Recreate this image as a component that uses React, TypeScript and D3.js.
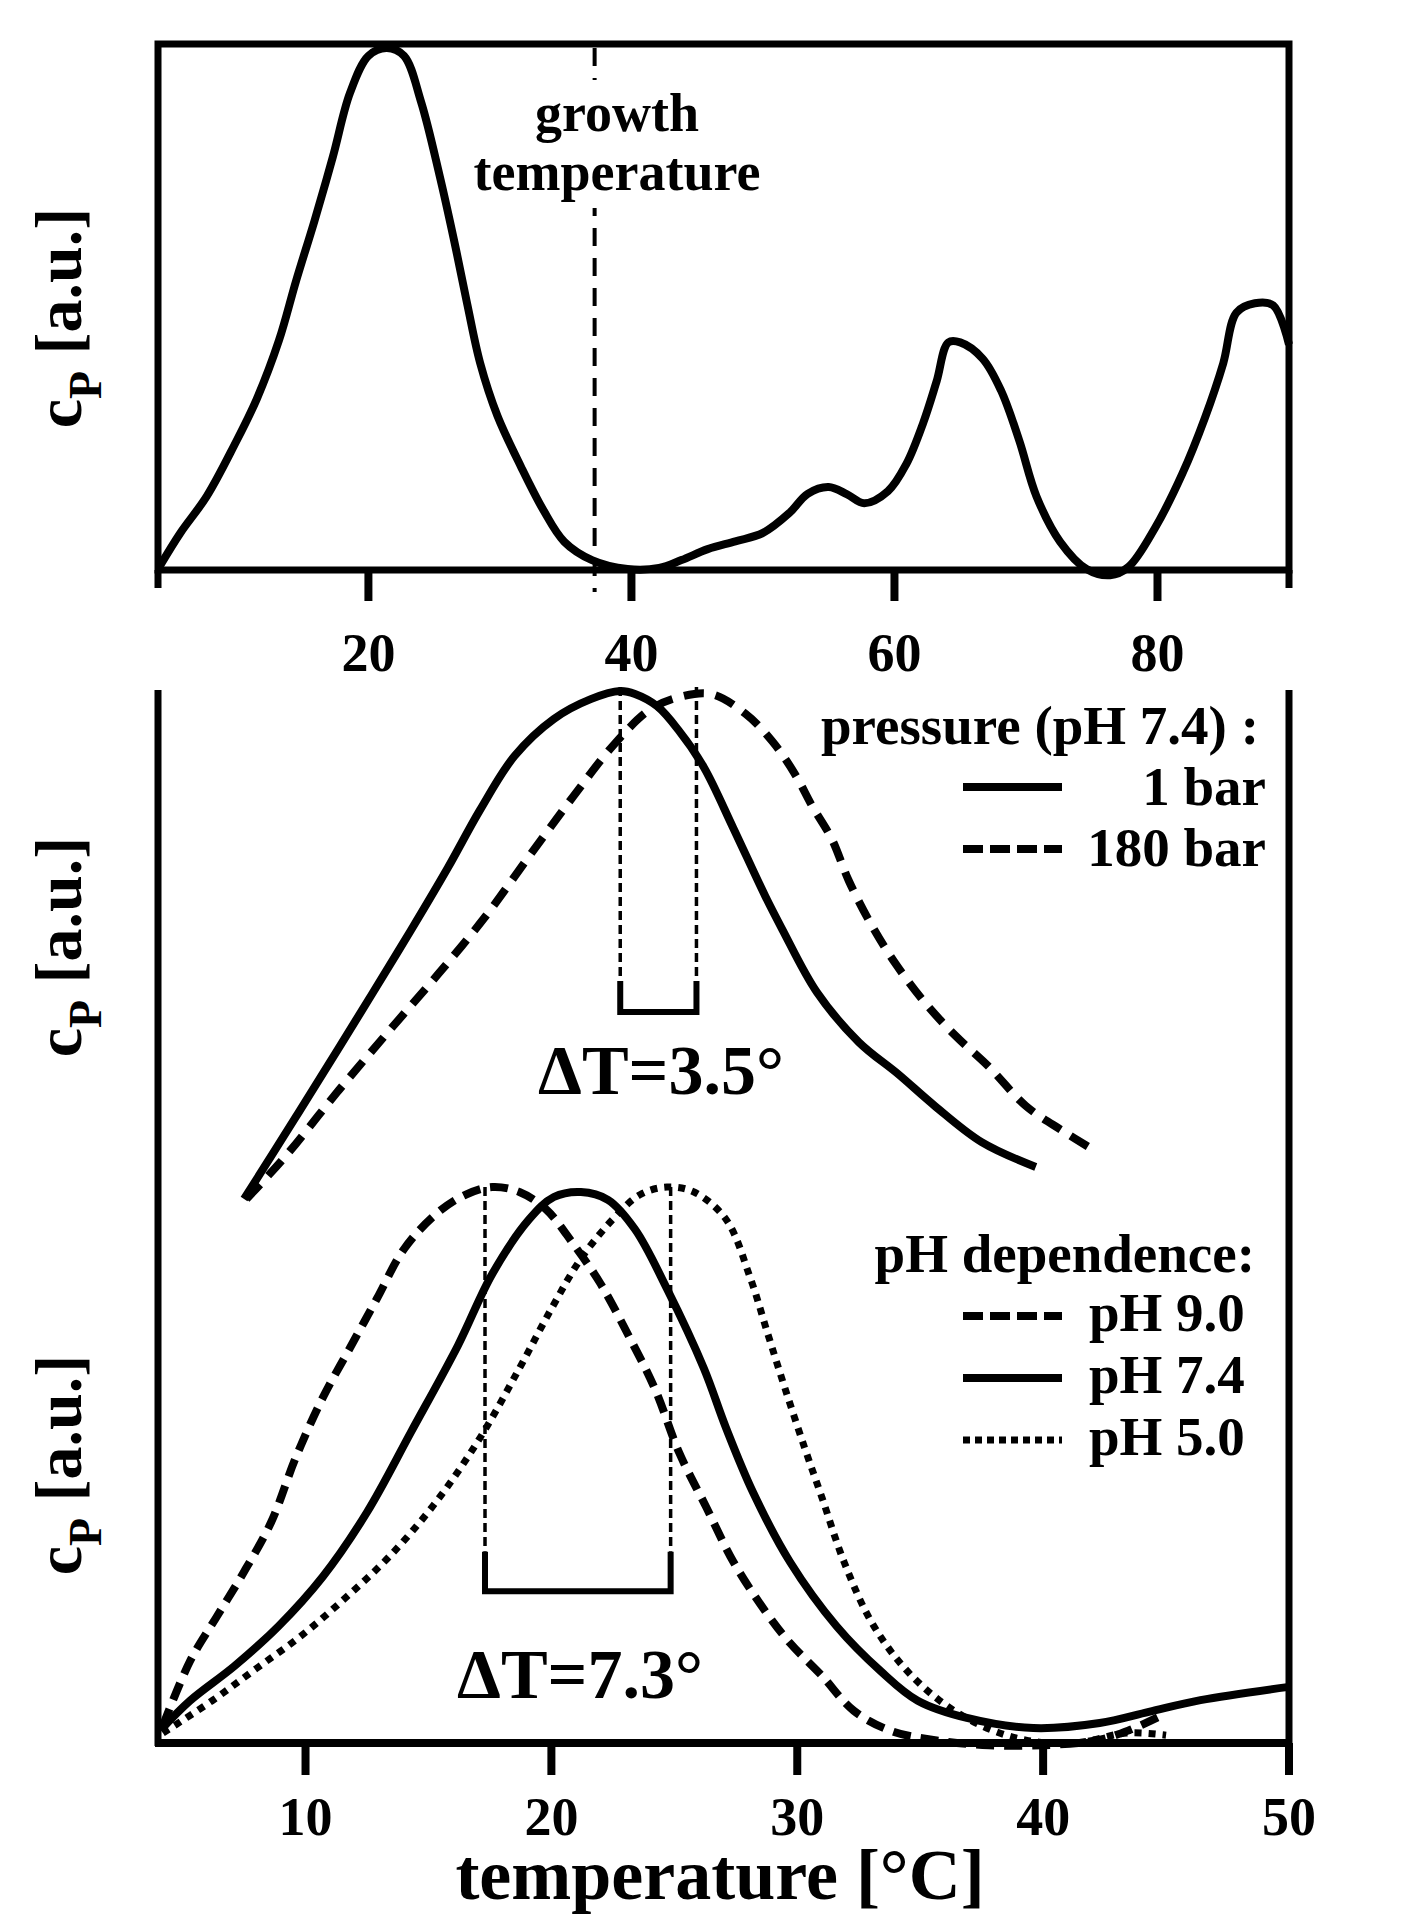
import React from "react";
import * as d3 from "d3";

type Pt = [number, number];

// ---- top panel: whole-cell DSC scan, temperature vs cP ----
const topTicks = [20, 40, 60, 80];
const growthTemp = 37.2;
const cellScan: Pt[] = [
  [4.1, 0.6], [5.7, 7.1], [7.7, 14.1], [9.8, 23.9], [11.5, 32.7], [13.2, 44.0],
  [14.5, 55.4], [15.9, 66.9], [17.3, 79.2], [18.6, 91.4], [20.0, 98.5], [21.4, 100],
  [22.7, 98.5], [24.0, 89.7], [25.4, 75.7], [26.5, 63.3], [27.5, 51.1], [28.5, 39.6],
  [29.8, 29.6], [31.6, 19.8], [33.3, 11.5], [34.9, 5.4], [37.0, 1.9], [39.7, 0.2],
  [42.1, 0.4], [43.8, 1.9], [45.8, 4.0], [47.9, 5.5], [50.0, 7.1], [52.0, 10.9],
  [53.4, 14.6], [55.0, 15.9], [56.4, 14.5], [57.7, 12.8], [59.5, 15.1], [60.9, 20.3],
  [62.2, 28.3], [63.2, 36.1], [64.1, 43.6], [65.0, 43.6], [66.7, 40.5], [68.1, 34.4],
  [69.5, 24.7], [70.8, 14.1], [72.6, 5.4], [74.6, 0.2], [76.4, -1.0], [77.8, 0.6],
  [79.8, 8.0], [81.9, 18.5], [83.6, 29.1], [85.0, 39.6], [86.0, 49.3], [87.4, 51.1],
  [88.8, 50.7], [90.0, 43.2],
];

// ---- bottom panel, upper pair: pressure (pH 7.4) ----
const bottomTicks = [10, 20, 30, 40, 50];
const bar1: Pt[] = [
  [7.5, 0], [9.6, 16.1], [11.4, 30.1], [12.7, 40.3], [14.3, 53.0], [15.8, 65.3],
  [17.1, 76.6], [18.5, 87.2], [20.1, 94.5], [21.6, 98.4], [22.8, 100], [23.4, 99.4],
  [24.3, 97.0], [25.2, 92.1], [26.2, 85.0], [27.4, 73.0], [28.7, 59.6], [29.4, 53.0],
  [30.8, 40.7], [32.5, 30.9], [34.1, 24.6], [35.6, 18.3], [37.5, 11.2], [39.7, 6.3],
];
const bar180: Pt[] = [
  [7.6, 0], [9.2, 8.5], [11.3, 21.1], [13.4, 33.1], [15.4, 44.3], [17.3, 55.5],
  [19.1, 67.5], [20.9, 79.3], [22.5, 89.2], [24.0, 96.3], [25.2, 98.8], [26.5, 99.4],
  [27.9, 95.5], [29.0, 90.0], [29.9, 83.7], [30.6, 77.4], [31.4, 70.9], [32.1, 62.6],
  [33.0, 54.1], [34.0, 46.3], [35.2, 38.6], [36.4, 32.3], [37.8, 26.0], [39.3, 18.3],
  [40.8, 13.4], [42.0, 9.8],
];
const pressurePeaks = [22.8, 25.9];

// ---- bottom panel, lower triple: pH dependence ----
const ph90: Pt[] = [
  [4.2, 3.1], [5.3, 14.7], [6.4, 22.8], [7.5, 30.8], [8.6, 39.7], [9.6, 51.3],
  [10.7, 62.1], [11.8, 71.0], [12.9, 79.9], [14.0, 88.8], [15.3, 95.1], [16.5, 98.6],
  [17.6, 100], [18.7, 99.1], [19.8, 95.9], [20.9, 89.7], [22.0, 82.6], [23.1, 73.6],
  [24.2, 63.8], [25.2, 52.2], [26.3, 42.4], [27.4, 32.6], [28.7, 23.7], [29.7, 18.0],
  [31.0, 12.1], [32.3, 5.8], [33.8, 2.2], [35.6, 0.5], [37.8, -0.4], [40.0, -0.4],
  [42.2, 0.5], [43.5, 2.3], [44.7, 4.7],
];
const ph74: Pt[] = [
  [4.1, 2.3], [5.3, 7.6], [7.1, 13.8], [8.9, 21.0], [10.7, 29.9], [12.5, 41.5],
  [14.3, 56.0], [16.2, 71.5], [17.6, 84.4], [19.1, 94.2], [20.1, 98.2], [21.2, 99.1],
  [22.3, 97.7], [23.4, 92.4], [24.7, 81.7], [26.2, 67.4], [27.1, 56.7], [28.2, 45.1],
  [29.7, 32.6], [31.6, 21.0], [33.4, 12.9], [34.9, 7.6], [36.9, 4.5], [39.6, 2.7],
  [42.3, 3.6], [44.3, 5.6], [46.4, 7.7], [50.0, 10.1],
];
const ph50: Pt[] = [
  [4.2, 1.8], [6.2, 7.6], [8.0, 13.4], [9.8, 19.2], [11.6, 26.0], [13.4, 33.5],
  [15.3, 43.3], [17.1, 54.9], [18.7, 67.4], [20.0, 78.1], [21.2, 87.1], [22.5, 94.2],
  [23.6, 98.6], [24.7, 100], [25.8, 99.1], [27.1, 94.2], [28.1, 83.5], [28.8, 73.6],
  [29.5, 63.8], [30.3, 53.1], [31.0, 44.2], [31.9, 32.6], [33.0, 21.9], [34.3, 13.8],
  [35.8, 7.6], [37.5, 3.1], [39.3, 0.5], [41.3, 0], [43.4, 1.8], [45.0, 1.4],
];
const phPeaks = [17.3, 24.85];

const FONT = "'Liberation Serif', 'Times New Roman', Times, serif";

const App: React.FC = () => {
  const W = 1410;
  const H = 1928;
  const left = 158;
  const right = 1289;

  // scales
  const xTop = d3.scaleLinear().domain([4, 90]).range([left, right]);
  const yTop = d3.scaleLinear().domain([0, 100]).range([570, 48]);
  const xBot = d3.scaleLinear().domain([4, 50]).range([left, right]);
  const yPress = d3.scaleLinear().domain([0, 100]).range([1199, 691]);
  const yPh = d3.scaleLinear().domain([0, 100]).range([1743, 1187]);

  const topBase = yTop(0);
  const botBase = yPh(0);

  const lineTop = d3
    .line<Pt>()
    .x((d) => xTop(d[0]))
    .y((d) => yTop(d[1]))
    .curve(d3.curveCatmullRom);
  const linePress = d3
    .line<Pt>()
    .x((d) => xBot(d[0]))
    .y((d) => yPress(d[1]))
    .curve(d3.curveCatmullRom);
  const linePh = d3
    .line<Pt>()
    .x((d) => xBot(d[0]))
    .y((d) => yPh(d[1]))
    .curve(d3.curveCatmullRom);

  const yLabel = (cy: number) => (
    <text
      transform={`translate(81,${cy}) rotate(-90)`}
      textAnchor="middle"
      fontSize={66}
      fontWeight="bold"
    >
      c
      <tspan fontSize={46} dy={20}>
        P
      </tspan>
      <tspan dy={-20}> [a.u.]</tspan>
    </text>
  );

  // bracket under two peaks
  const bracket = (x1: number, x2: number, yT: number, yB: number) =>
    `M${x1},${yT}V${yB}H${x2}V${yT}`;

  return (
    <svg
      width={W}
      height={H}
      style={{ position: "absolute", left: 0, top: 0, background: "#fff" }}
      fontFamily={FONT}
    >
      <rect width={W} height={H} fill="#fff" />

      {/* ===== top panel ===== */}
      <line
        x1={xTop(growthTemp)}
        x2={xTop(growthTemp)}
        y1={48}
        y2={topBase + 22}
        stroke="#000"
        strokeWidth={4}
        strokeDasharray="18,12"
      />
      <rect x={468} y={80} width={300} height={128} fill="#fff" />
      <g fontSize={54} fontWeight="bold" textAnchor="middle">
        <text x={617} y={131}>growth</text>
        <text x={617} y={190}>temperature</text>
      </g>

      <path d={lineTop(cellScan) ?? ""} fill="none" stroke="#000" strokeWidth={8} strokeLinejoin="round" />

      <rect x={left} y={44} width={right - left} height={topBase - 44} fill="none" stroke="#000" strokeWidth={7} />
      <line x1={left} x2={left} y1={topBase} y2={topBase + 18} stroke="#000" strokeWidth={7} />
      <line x1={right} x2={right} y1={topBase} y2={topBase + 18} stroke="#000" strokeWidth={7} />
      {topTicks.map((t) => (
        <g key={t}>
          <line x1={xTop(t)} x2={xTop(t)} y1={topBase} y2={topBase + 31} stroke="#000" strokeWidth={8} />
          <text x={xTop(t)} y={671} textAnchor="middle" fontSize={54} fontWeight="bold">
            {t}
          </text>
        </g>
      ))}
      {yLabel(318)}

      {/* ===== bottom panel ===== */}
      {/* pressure pair */}
      {pressurePeaks.map((p) => (
        <line
          key={p}
          x1={xBot(p)}
          x2={xBot(p)}
          y1={yPress(100.8)}
          y2={yPress(42.9)}
          stroke="#000"
          strokeWidth={3.5}
          strokeDasharray="9,5"
        />
      ))}
      <path
        d={bracket(xBot(pressurePeaks[0]), xBot(pressurePeaks[1]), yPress(42.9), yPress(36.8))}
        fill="none"
        stroke="#000"
        strokeWidth={6}
      />
      <text x={661} y={1094} textAnchor="middle" fontSize={70} fontWeight="bold">
        ΔT=3.5°
      </text>
      <path d={linePress(bar1) ?? ""} fill="none" stroke="#000" strokeWidth={8} strokeLinejoin="round" />
      <path d={linePress(bar180) ?? ""} fill="none" stroke="#000" strokeWidth={8} strokeDasharray="20,12" />

      {/* pH triple */}
      {phPeaks.map((p) => (
        <line
          key={p}
          x1={xBot(p)}
          x2={xBot(p)}
          y1={yPh(100)}
          y2={yPh(34.4)}
          stroke="#000"
          strokeWidth={3.5}
          strokeDasharray="9,5"
        />
      ))}
      <path
        d={bracket(xBot(phPeaks[0]), xBot(phPeaks[1]), yPh(34.4), yPh(27.3))}
        fill="none"
        stroke="#000"
        strokeWidth={6}
      />
      <text x={580} y={1698} textAnchor="middle" fontSize={70} fontWeight="bold">
        ΔT=7.3°
      </text>
      <path d={linePh(ph50) ?? ""} fill="none" stroke="#000" strokeWidth={7} strokeDasharray="7,7" />
      <path d={linePh(ph90) ?? ""} fill="none" stroke="#000" strokeWidth={8} strokeDasharray="18,10" />
      <path d={linePh(ph74) ?? ""} fill="none" stroke="#000" strokeWidth={8} strokeLinejoin="round" />

      {/* axes */}
      <line x1={left} x2={left} y1={690} y2={botBase + 3} stroke="#000" strokeWidth={7} />
      <line x1={right} x2={right} y1={690} y2={botBase + 32} stroke="#000" strokeWidth={7} />
      <line x1={left - 3} x2={right} y1={botBase} y2={botBase} stroke="#000" strokeWidth={8} />
      {bottomTicks.map((t) => (
        <g key={t}>
          <line x1={xBot(t)} x2={xBot(t)} y1={botBase} y2={botBase + 32} stroke="#000" strokeWidth={8} />
          <text x={xBot(t)} y={1835} textAnchor="middle" fontSize={54} fontWeight="bold">
            {t}
          </text>
        </g>
      ))}
      <text x={720} y={1899} textAnchor="middle" fontSize={72} fontWeight="bold">
        temperature [°C]
      </text>
      {yLabel(947)}
      {yLabel(1465)}

      {/* legends */}
      <g fontSize={55} fontWeight="bold">
        <text x={1259} y={744} textAnchor="end">pressure (pH 7.4) :</text>
        <line x1={963} x2={1062} y1={787} y2={787} stroke="#000" strokeWidth={8} />
        <text x={1266} y={805} textAnchor="end">1 bar</text>
        <line x1={963} x2={1062} y1={849} y2={849} stroke="#000" strokeWidth={8} strokeDasharray="20,7" />
        <text x={1266} y={866} textAnchor="end">180 bar</text>

        <text x={1255} y={1272} textAnchor="end">pH dependence:</text>
        <line x1={963} x2={1062} y1={1316} y2={1316} stroke="#000" strokeWidth={8} strokeDasharray="20,7" />
        <text x={1089} y={1331}>pH 9.0</text>
        <line x1={963} x2={1062} y1={1378} y2={1378} stroke="#000" strokeWidth={8} />
        <text x={1089} y={1393}>pH 7.4</text>
        <line x1={963} x2={1062} y1={1440} y2={1440} stroke="#000" strokeWidth={7} strokeDasharray="7,5" />
        <text x={1089} y={1455}>pH 5.0</text>
      </g>
    </svg>
  );
};

export default App;
